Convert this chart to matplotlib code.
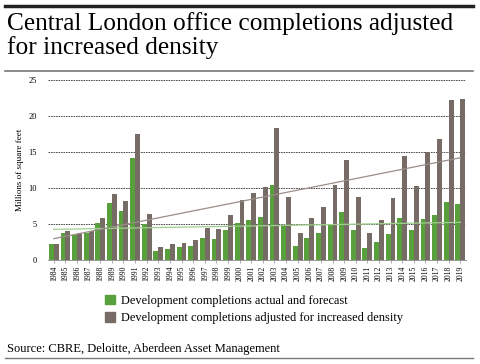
import numpy as np
import matplotlib.pyplot as plt
from matplotlib.lines import Line2D
from matplotlib.patches import Patch

years = list(range(1984, 2020))
actual = [2.2, 3.8, 3.5, 3.7, 5.1, 7.9, 6.8, 14.2, 5.0, 1.3,
          1.5, 1.8, 2.0, 3.0, 2.9, 4.1, 5.2, 5.6, 6.0, 10.4,
          4.8, 2.0, 3.1, 3.7, 5.0, 6.6, 4.1, 1.7, 2.5, 3.6,
          5.9, 4.1, 5.7, 6.2, 8.0, 7.8]
adjusted = [2.2, 4.0, 3.7, 4.0, 5.8, 9.1, 8.2, 17.5, 6.4, 1.8,
            2.2, 2.4, 2.8, 4.4, 4.3, 6.3, 8.3, 9.3, 10.2, 18.3,
            8.7, 3.8, 5.9, 7.3, 10.4, 13.9, 8.8, 3.8, 5.6, 8.6,
            14.4, 10.3, 15.0, 16.8, 22.2, 22.3]

green = "#57a03c"
grey = "#776b65"
serif = "Liberation Serif"

fig = plt.figure(figsize=(4.8, 3.64), dpi=100)
ax = fig.add_axes([0.1, 0.2857, 0.871, 0.4945])

x = np.arange(len(years))
w = 0.42
ax.bar(x - w / 2, actual, w, color=green, zorder=2)
ax.bar(x + w / 2, adjusted, w, color=grey, zorder=2)

# linear trend lines
pa = np.polyfit(x, actual, 1)
pg = np.polyfit(x, adjusted, 1)
ax.plot(x, np.polyval(pa, x), color="#9fcf8f", lw=0.9, zorder=3)
ax.plot(x, np.polyval(pg, x), color="#9a8e88", lw=0.9, zorder=3)

ax.set_xlim(-0.5, len(years) - 0.5)
ax.set_ylim(0, 25)
ax.set_yticks([0, 5, 10, 15, 20, 25])
ax.set_xticks(x)
ax.set_xticklabels([str(y) for y in years], rotation=90, fontsize=5.5, family=serif)
for lab in ax.get_yticklabels():
    lab.set_family(serif)
    lab.set_fontsize(6)
ax.tick_params(axis="y", length=0, pad=8)
ax.tick_params(axis="x", length=2, width=0.5, pad=2, color="#888888")
ax.yaxis.grid(True, linestyle=(0, (2, 1)), color="#333333", lw=0.6, zorder=0)
for s in ["top", "right", "left"]:
    ax.spines[s].set_visible(False)
ax.spines["bottom"].set_color("#888888")
ax.spines["bottom"].set_linewidth(0.6)
ax.set_ylabel("Millions of square feet", family=serif, fontsize=6.5, labelpad=3)

handles = [Patch(color=green), Patch(color=grey)]
fig.legend(handles, ["Development completions actual and forecast",
                     "Development completions adjusted for increased density"],
           loc="upper left", bbox_to_anchor=(0.218, 0.19), frameon=False,
           prop={"family": serif, "size": 8.9}, handlelength=0.8, handleheight=0.8,
           handletextpad=0.5, labelspacing=0.45, borderpad=0, borderaxespad=0,
           bbox_transform=fig.transFigure)

fig.text(0.015, 0.968, "Central London office completions adjusted\nfor increased density",
         family=serif, fontsize=18.3, va="top", ha="left", linespacing=1.08)
fig.text(0.015, 0.041, "Source: CBRE, Deloitte, Aberdeen Asset Management",
         family=serif, fontsize=9, va="center", ha="left")

fig.add_artist(Line2D([0.01, 0.985], [0.983, 0.983], color="#222222", lw=2.5))
fig.add_artist(Line2D([0.01, 0.985], [0.805, 0.805], color="#777777", lw=1.2))
fig.add_artist(Line2D([0.01, 0.985], [0.017, 0.017], color="#777777", lw=1.0))

fig.savefig("out.png", dpi=100)
